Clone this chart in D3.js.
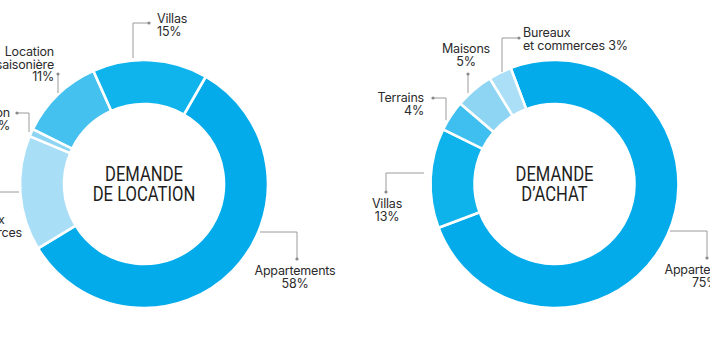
<!DOCTYPE html>
<html>
<head>
<meta charset="utf-8">
<script src="https://cdn.jsdelivr.net/npm/d3@7"></script>
<style>
  html, body { margin: 0; padding: 0; background: #fff; }
  svg { display: block; }
  .lbl { font-family: Inter, Roboto, "Liberation Sans", sans-serif; font-size: 12.5px; fill: #2b2b2b; letter-spacing: -0.2px; }
  .title { font-family: Roboto, "Liberation Sans", sans-serif; font-size: 20px; fill: #1e1e1e; }
</style>
</head>
<body>
<svg id="chart" width="710" height="339"></svg>
<script>
// Demande de location (clockwise from the Appartements slice)
const locationCategories = ["Appartements", "Bureaux et commerces", "Maison", "Location saisonière", "Villas"];
const locationValues = [58, 15, 1, 11, 15];
const locationColors = ["#03abeb", "#a9def7", "#8dd5f3", "#45c1ef", "#10b4ec"];

// Demande d'achat
const achatCategories = ["Appartements", "Villas", "Terrains", "Maisons", "Bureaux et commerces"];
const achatValues = [75, 13, 4, 5, 3];
const achatColors = ["#03abeb", "#0fb3ec", "#3fbfef", "#8ed4f3", "#aadff7"];

const svg = d3.select("#chart");
const deg = Math.PI / 180;

function donut(cfg) {
  const g = svg.append("g").attr("transform", `translate(${cfg.cx},${cfg.cy})`);
  const pie = d3.pie().sort(null).value(d => d)
    .startAngle(cfg.start * deg).endAngle(cfg.start * deg + 2 * Math.PI);
  const arc = d3.arc().innerRadius(80).outerRadius(124);
  const arcs = pie(cfg.values);

  g.selectAll("path.slice").data(arcs).join("path")
    .attr("class", "slice")
    .attr("d", arc)
    .attr("fill", (d, i) => cfg.colors[i])
    .attr("stroke", "#fff")
    .attr("stroke-width", 2.6)
    .attr("stroke-linejoin", "miter");

  // centre title
  const t = g.append("g");
  cfg.title.forEach((line, i) => {
    t.append("text").attr("class", "title")
      .attr("text-anchor", "middle")
      .attr("x", 0).attr("y", -3 + i * 19.5)
      .text(line);
  });
  const w = t.select("text").node().getComputedTextLength();
  t.attr("transform", `scale(${78 / w},1)`);
}

// leader lines and labels (page coordinates)
function label(cfg) {
  const path = d3.path();
  path.moveTo(cfg.line[0][0], cfg.line[0][1]);
  cfg.line.slice(1).forEach(p => path.lineTo(p[0], p[1]));
  svg.append("path").attr("d", path.toString())
    .attr("fill", "none").attr("stroke", "#9a9a9a").attr("stroke-width", 1);
  const dot = cfg.line[cfg.line.length - 1];
  svg.append("circle").attr("cx", dot[0]).attr("cy", dot[1]).attr("r", 1.6).attr("fill", "#8a8a8a");
  const txt = svg.append("text").attr("class", "lbl").attr("text-anchor", cfg.anchor);
  cfg.lines.forEach((s, i) => {
    txt.append("tspan").attr("x", cfg.x).attr("y", cfg.y + i * 12.7).text(s);
  });
}

donut({ cx: 144, cy: 184, start: 29.9, values: locationValues, colors: locationColors,
        title: ["DEMANDE", "DE LOCATION"] });
donut({ cx: 554.5, cy: 184, start: -20.7, values: achatValues, colors: achatColors,
        title: ["DEMANDE", "D\u2019ACHAT"] });

const pct = v => v + "%";

// left chart labels
label({ line: [[133, 58], [133, 23], [149, 23]], anchor: "start", x: 157, y: 23,
        lines: [locationCategories[4], pct(locationValues[4])] });
label({ line: [[58, 93], [58, 74]], anchor: "end", x: 54, y: 56,
        lines: ["Location", "saisonière", pct(locationValues[3])] });
label({ line: [[29, 132], [29, 113], [17, 113]], anchor: "end", x: 10, y: 117,
        lines: [locationCategories[2], pct(locationValues[2])] });
label({ line: [[19, 192], [-19, 192], [-19, 206]], anchor: "middle", x: -19, y: 224,
        lines: ["Bureaux", "et commerces", pct(locationValues[1])] });
label({ line: [[260, 232], [297, 232], [297, 259]], anchor: "middle", x: 295, y: 275,
        lines: [locationCategories[0], pct(locationValues[0])] });

// right chart labels
label({ line: [[502, 72], [502, 38], [519, 38]], anchor: "start", x: 523, y: 37,
        lines: ["Bureaux", "et commerces " + pct(achatValues[4])] });
label({ line: [[468, 93], [468, 74]], anchor: "middle", x: 466, y: 53,
        lines: [achatCategories[3], pct(achatValues[3])] });
label({ line: [[446, 120], [446, 98], [433, 98]], anchor: "end", x: 424, y: 102,
        lines: [achatCategories[2], pct(achatValues[2])] });
label({ line: [[424, 173], [386, 173], [386, 192]], anchor: "middle", x: 387, y: 208,
        lines: [achatCategories[1], pct(achatValues[1])] });
label({ line: [[670, 231], [707, 231], [707, 258]], anchor: "middle", x: 705, y: 274,
        lines: [achatCategories[0], pct(achatValues[0])] });
</script>
</body>
</html>
